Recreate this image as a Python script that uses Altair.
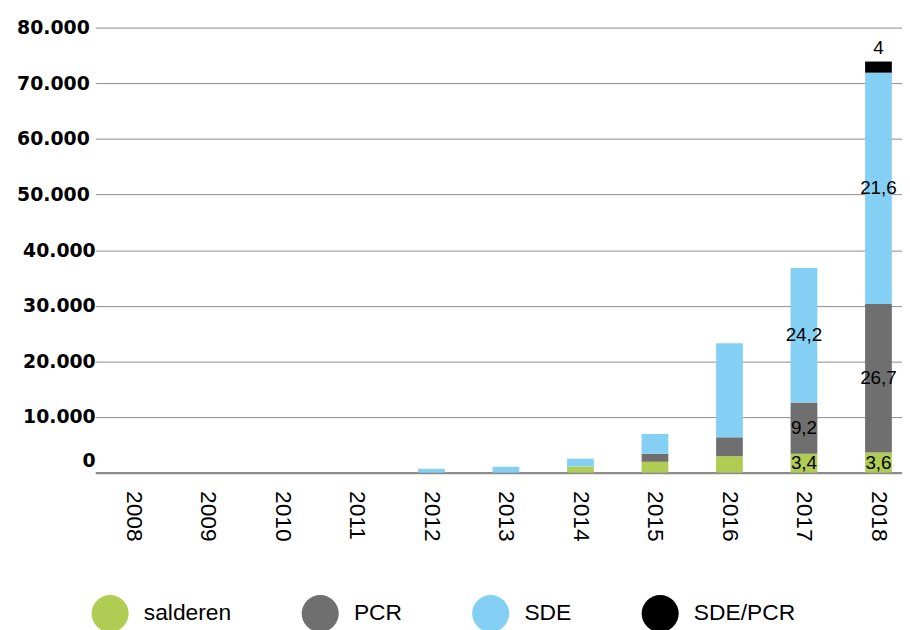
import altair as alt
import pandas as pd

years = ["2008", "2009", "2010", "2011", "2012", "2013", "2014", "2015", "2016", "2017", "2018"]
series = ["salderen", "PCR", "SDE", "SDE/PCR"]
colors = ["#b0cc53", "#6f6f6f", "#84d0f5", "#000000"]

salderen = [0, 0, 0, 0, 0, 0, 1100, 1950, 2950, 3400, 3600]
pcr = [0, 0, 0, 0, 0, 0, 0, 1450, 3400, 9200, 26700]
sde = [0, 0, 0, 0, 700, 1050, 1400, 3550, 16900, 24200, 41600]
sde_pcr = [0, 0, 0, 0, 0, 0, 0, 0, 0, 0, 2000]

label_years = ["2017", "2017", "2017", "2018", "2018", "2018", "2018"]
label_series = ["salderen", "PCR", "SDE", "salderen", "PCR", "SDE", "SDE/PCR"]
label_texts = ["3,4", "9,2", "24,2", "3,6", "26,7", "21,6", "4"]

y_ticks = [0, 10000, 20000, 30000, 40000, 50000, 60000, 70000, 80000]

# long table with stacked start/end
values = {"salderen": salderen, "PCR": pcr, "SDE": sde, "SDE/PCR": sde_pcr}
rows = []
for i, yr in enumerate(years):
    base = 0
    for k, s in enumerate(series):
        v = values[s][i]
        rows.append({"year": yr, "series": s, "idx": k, "value": v,
                     "start": base, "end": base + v, "mid": base + v / 2})
        base += v
df = pd.DataFrame(rows)

lab = pd.DataFrame({"year": label_years, "series": label_series, "text": label_texts})
lab = lab.merge(df[["year", "series", "start", "end", "mid"]], on=["year", "series"])
lab_mid = lab[lab["series"] != "SDE/PCR"]
lab_top = lab[lab["series"] == "SDE/PCR"]

x_scale = alt.Scale(domain=years, paddingInner=0.641, paddingOuter=0.235, align=0.71)
y_scale = alt.Scale(domain=[0, 80000], nice=False)

x_enc = alt.X("year:N", scale=x_scale, sort=years,
              axis=alt.Axis(title=None, labelAngle=90, labelFont="Liberation Sans",
                            labelFontSize=23, labelColor="#000000", labelPadding=18,
                            domain=False, ticks=False, grid=False))

y_axis = alt.Axis(
    title=None, values=y_ticks, domain=False, ticks=False, grid=True,
    gridColor="#8c8c8c",
    gridWidth={"condition": {"test": "datum.value == 0", "value": 2.2}, "value": 1},
    labelFont="DejaVu Sans", labelFontWeight="bold", labelFontSize=19, labelColor="#000000",
    labelPadding={"condition": {"test": "datum.value >= 50000", "value": 6}, "value": 0},
    labelOffset={"condition": {"test": "datum.value == 0", "value": -12}, "value": 0},
    labelExpr="replace(format(datum.value, ','), ',', '.')",
)

bars = alt.Chart(df).mark_bar().encode(
    x=x_enc,
    y=alt.Y("start:Q", scale=y_scale, axis=y_axis),
    y2="end:Q",
    color=alt.Color("series:N", scale=alt.Scale(domain=series, range=colors),
                    legend=alt.Legend(title=None, orient="none", direction="horizontal",
                                      legendX=-4, legendY=572, padding=0,
                                      symbolType="circle", symbolSize=1400,
                                      symbolStrokeWidth=0, symbolOpacity=1,
                                      labelFont="Liberation Sans", labelFontSize=23,
                                      labelColor="#000000", labelOffset=15,
                                      columnPadding=70, labelLimit=300)),
)

text_mid = alt.Chart(lab_mid).mark_text(font="Liberation Sans", fontSize=19,
                                         color="#000000", baseline="middle").encode(
    x=alt.X("year:N", scale=x_scale, sort=years),
    y=alt.Y("mid:Q", scale=y_scale),
    text="text:N",
)

text_top = alt.Chart(lab_top).mark_text(font="Liberation Sans", fontSize=19,
                                         color="#000000", baseline="bottom", dy=-4).encode(
    x=alt.X("year:N", scale=x_scale, sort=years),
    y=alt.Y("end:Q", scale=y_scale),
    text="text:N",
)

chart = alt.layer(bars, text_mid, text_top).properties(
    width=814, height=449,
    autosize=alt.AutoSizeParams(type="none"),
    padding={"left": 88, "top": 17, "right": 0, "bottom": 156},
).configure_view(stroke=None)

chart.save("out.html", embed_options={"renderer": "svg", "actions": False})
